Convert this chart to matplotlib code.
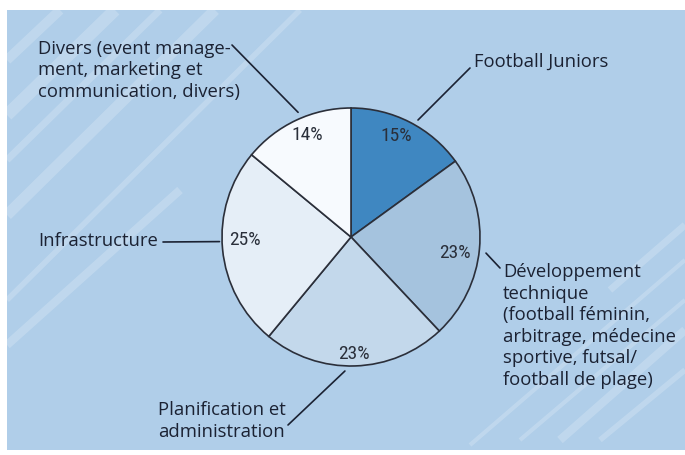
import matplotlib
matplotlib.use("Agg")
import matplotlib.pyplot as plt
import numpy as np
from matplotlib.patches import Rectangle
from matplotlib.lines import Line2D
from matplotlib import font_manager

# ---- data ----
categories = ["Football Juniors",
              "Développement\ntechnique\n(football féminin,\narbitrage, médecine\nsportive, futsal/\nfootball de plage)",
              "Planification et\nadministration",
              "Infrastructure",
              "Divers (event manage-\nment, marketing et\ncommunication, divers)"]
values = [15, 23, 23, 25, 14]
colors = ["#3f87c1", "#a5c3de", "#c3d8eb", "#e5eef7", "#f7fafe"]

W, H = 685, 455
fig = plt.figure(figsize=(W / 100, H / 100), dpi=100)
fig.patch.set_facecolor("white")

bg = Rectangle((7 / W, (H - 450) / H), 1 - 7 / W, (450 - 10) / H,
               transform=fig.transFigure, facecolor="#b0cee9", edgecolor="none", zorder=0)
fig.patches.append(bg)

stripes = [((7, 60), (60, 10), 7), ((7, 115), (115, 10), 9), ((7, 160), (160, 10), 5),
           ((7, 215), (215, 10), 8), ((7, 300), (300, 10), 4), ((7, 345), (180, 190), 6),
           ((560, 440), (685, 330), 6), ((600, 440), (685, 370), 4), ((470, 445), (685, 260), 3),
           ((610, 290), (685, 225), 5), ((520, 440), (685, 300), 3)]
for (x0, y0), (x1, y1), lw in stripes:
    fig.add_artist(Line2D([x0 / W, x1 / W], [1 - y0 / H, 1 - y1 / H], transform=fig.transFigure,
                          color="white", alpha=0.2, lw=lw, zorder=0.5, solid_capstyle="butt"))

installed = {f.name for f in font_manager.fontManager.ttflist}
narrow = [f for f in ["Liberation Sans Narrow", "DejaVu Sans Condensed", "Roboto Condensed",
                      "Open Sans Condensed"] if f in installed]
pct_family = (narrow[:1] or ["Roboto"]) + ["DejaVu Sans"]

cx, cy, R = 351, 237, 129
ax = fig.add_axes([(cx - R) / W, (H - cy - R) / H, 2 * R / W, 2 * R / H])
ax.set_zorder(2)
ax.patch.set_alpha(0)

wedges, _, autotexts = ax.pie(values, colors=colors, startangle=90, counterclock=False,
                              autopct="%d%%", pctdistance=0.87,
                              wedgeprops=dict(edgecolor="#2b2f3a", linewidth=1.2),
                              textprops=dict(color="#2a2f3a", fontsize=14,
                                             family=pct_family))
ax.set_xlim(-1, 1)
ax.set_ylim(-1, 1)
ax.set_aspect("equal")
ax.axis("off")

# percent label placement: (radius, angle offset deg from wedge middle)
pct_layout = [(0.854, 2.9), (0.812, -3.4), (0.905, -0.6), (0.826, -3.8), (0.861, -1.9)]
for w, t, (rr, doff) in zip(wedges, autotexts, pct_layout):
    th = np.deg2rad((w.theta1 + w.theta2) / 2 + doff)
    t.set_position((rr * np.cos(th), rr * np.sin(th)))

txt_color = "#1b2233"
font = ["Open Sans", "DejaVu Sans"]

# label layout: (angle offset deg, anchor radius, line end px, text centre px)
layout = [
    (-2.8, 1.045, (470, 68), (474, 62)),
    (-1.4, 1.054, (500, 268), (503, 326)),
    (-4.4, 1.04, (288, 425), (158, 421)),
    (-3.4, 1.02, (163, 242), (38, 241)),
    (-2.2, 1.05, (232, 45), (38, 70)),
]

for w, lab, (doff, rr, lend, tpos) in zip(wedges, categories, layout):
    th = np.deg2rad((w.theta1 + w.theta2) / 2 + doff)
    xy = (rr * np.cos(th), rr * np.sin(th))
    ax.annotate("", xy=xy, xycoords="data",
                xytext=(lend[0], H - lend[1]), textcoords="figure pixels",
                arrowprops=dict(arrowstyle="-", color="#1b2233", lw=1.2,
                                shrinkA=0, shrinkB=0), annotation_clip=False)
    fig.text(tpos[0] / W, 1 - tpos[1] / H, lab, ha="left", va="center", fontsize=13.3,
             color=txt_color, family=font, linespacing=1.25)

fig.savefig("out.png", dpi=100, facecolor="white")
